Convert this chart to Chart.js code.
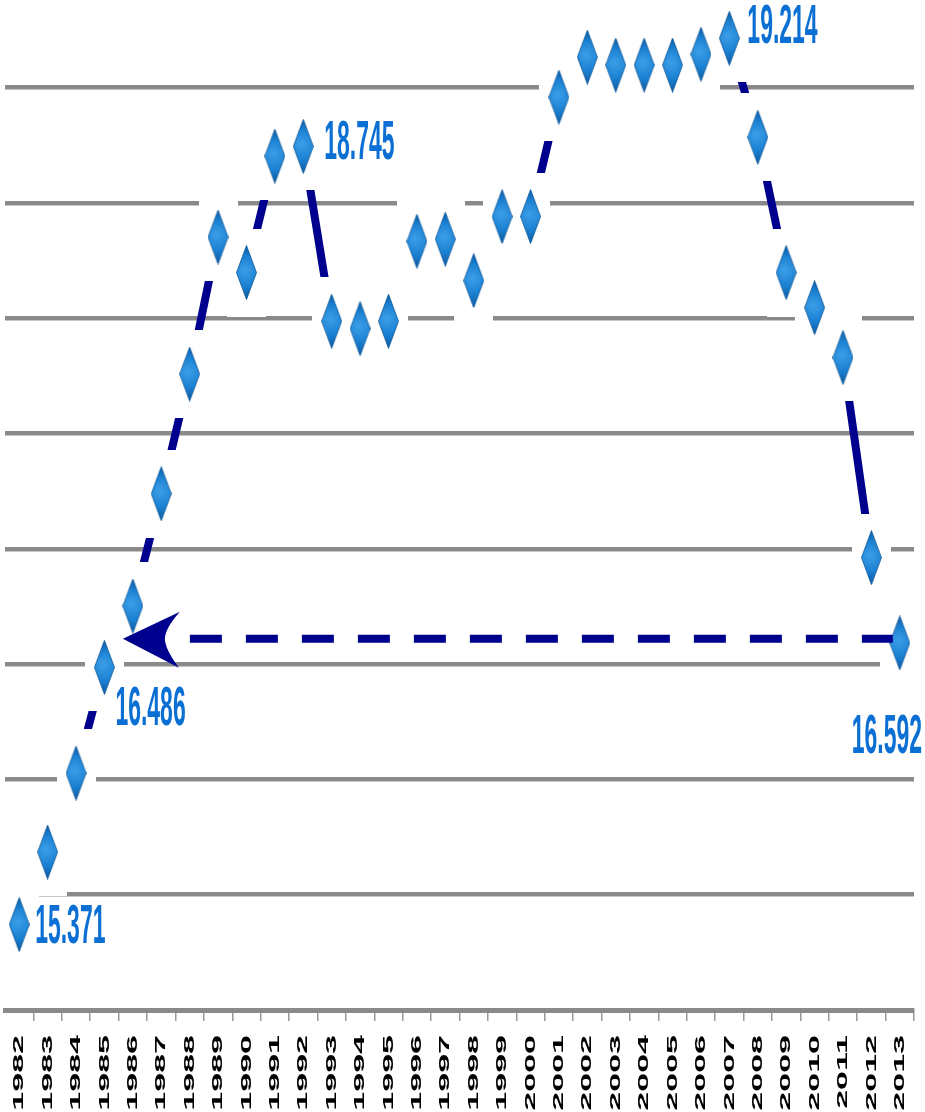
<!DOCTYPE html>
<html>
<head>
<meta charset="utf-8">
<script src="https://cdn.jsdelivr.net/npm/chart.js@4.4.1/dist/chart.umd.min.js"></script>
<style>
  html, body { margin: 0; padding: 0; background: #fff; }
  #wrap { width: 925px; height: 1112px; }
</style>
</head>
<body>
<div id="wrap"><canvas id="myChart"></canvas></div>
<script>
// data
const years = ['1982', '1983', '1984', '1985', '1986', '1987', '1988', '1989', '1990', '1991',
  '1992', '1993', '1994', '1995', '1996', '1997', '1998', '1999', '2000', '2001',
  '2002', '2003', '2004', '2005', '2006', '2007', '2008', '2009', '2010', '2011', '2012', '2013'];
const values = [15.371, 15.685, 16.027, 16.486, 16.752, 17.239, 17.758, 18.352, 18.198, 18.703,
  18.745, 17.987, 17.955, 17.987, 18.334, 18.343, 18.163, 18.441, 18.441, 18.959,
  19.132, 19.098, 19.098, 19.098, 19.145, 19.214, 18.785, 18.198, 18.046, 17.830, 16.962, 16.592];
const yMin = 15;
const yMax = 19.38;
const yStep = 0.5;
const labelledYears = ['1982', '1985', '1992', '2007', '2013'];
// comparison arrow: from 2013 back to the 1985 level
const arrowFromYear = '2013';
const arrowToIndex = 3.65;
const arrowLevel = 16.61;

const navy = '#00008f';
const labelBlue = '#0b6fd4';

// tall 3d-looking diamond marker
function makeDiamond(w, h) {
  const c = document.createElement('canvas');
  c.width = w;
  c.height = h;
  const g = c.getContext('2d');
  g.beginPath();
  g.moveTo(w / 2, 0.5);
  g.lineTo(w - 0.5, h / 2);
  g.lineTo(w / 2, h - 0.5);
  g.lineTo(0.5, h / 2);
  g.closePath();
  const grad = g.createRadialGradient(w * 0.42, h * 0.45, 0, w * 0.5, h * 0.5, h * 0.55);
  grad.addColorStop(0, '#3d9fe8');
  grad.addColorStop(0.5, '#1a80d2');
  grad.addColorStop(1, '#0a4f92');
  g.fillStyle = grad;
  g.fill();
  g.lineWidth = 0.8;
  g.strokeStyle = '#0b5597';
  g.stroke();
  return c;
}

// white box behind each marker, it cuts the line and the grid
function makeHalo(w, h) {
  const c = document.createElement('canvas');
  c.width = w;
  c.height = h;
  const g = c.getContext('2d');
  g.fillStyle = '#ffffff';
  g.fillRect(0, 0, w, h);
  return c;
}

const diamond = makeDiamond(21, 55);
const halo = makeHalo(39, 88);

const labelSpots = {
  '1982': [16, 3],
  '1985': [11, 42],
  '1992': [21, -3],
  '2007': [18, -11],
  '2013': [-48, 95]
};

const valueLabels = {
  id: 'valueLabels',
  afterDatasetsDraw(chart) {
    const ctx = chart.ctx;
    const x = chart.scales.x;
    const y = chart.scales.y;

    // arrow
    const ay = y.getPixelForValue(arrowLevel);
    const tipX = x.getPixelForValue(arrowToIndex);
    const endX = x.getPixelForValue(years.indexOf(arrowFromYear));
    ctx.save();
    ctx.strokeStyle = navy;
    ctx.lineWidth = 8;
    ctx.setLineDash([32, 24]);
    ctx.beginPath();
    ctx.moveTo(tipX + 67, ay);
    ctx.lineTo(endX - 7, ay);
    ctx.stroke();
    ctx.setLineDash([]);
    ctx.fillStyle = navy;
    ctx.beginPath();
    ctx.moveTo(tipX, ay);
    ctx.lineTo(tipX + 57, ay - 27);
    ctx.quadraticCurveTo(tipX + 42, ay - 10, tipX + 42, ay);
    ctx.quadraticCurveTo(tipX + 42, ay + 10, tipX + 56, ay + 29);
    ctx.closePath();
    ctx.fill();
    ctx.restore();

    // value labels
    labelledYears.forEach(yr => {
      const i = years.indexOf(yr);
      const spot = labelSpots[yr];
      ctx.save();
      ctx.translate(x.getPixelForValue(i) + spot[0], y.getPixelForValue(values[i]) + spot[1]);
      ctx.scale(0.41, 1);
      ctx.font = 'bold 56px "Liberation Sans", Arial, sans-serif';
      ctx.fillStyle = labelBlue;
      ctx.textBaseline = 'middle';
      ctx.textAlign = 'left';
      ctx.fillText(values[i].toFixed(3), 0, 0);
      ctx.restore();
    });
  },
  afterDraw(chart) {
    // stretched year labels under the axis
    const ctx = chart.ctx;
    const x = chart.scales.x;
    const top = chart.chartArea.bottom + 25;
    years.forEach((yr, i) => {
      ctx.save();
      ctx.translate(x.getPixelForValue(i), top);
      ctx.rotate(-Math.PI / 2);
      ctx.scale(2.27, 1);
      ctx.font = 'bold 15px "Liberation Sans", Arial, sans-serif';
      ctx.fillStyle = '#000000';
      ctx.textAlign = 'right';
      ctx.textBaseline = 'middle';
      ctx.fillText(yr, 0, 0);
      ctx.restore();
    });
  }
};

const ctx = document.getElementById('myChart');
const chart = new Chart(ctx, {
  type: 'line',
  data: {
    labels: years,
    datasets: [{
      label: 'line',
      data: values,
      borderColor: navy,
      borderWidth: 8,
      pointRadius: 0,
      tension: 0,
      clip: false,
      order: 3
    }, {
      label: 'halo',
      data: values,
      showLine: false,
      pointStyle: halo,
      pointRadius: 10,
      clip: false,
      order: 2
    }, {
      label: 'marker',
      data: values,
      showLine: false,
      pointStyle: diamond,
      pointRadius: 10,
      clip: false,
      order: 1
    }]
  },
  options: {
    responsive: true,
    maintainAspectRatio: false,
    animation: false,
    events: [],
    layout: { autoPadding: false, padding: { left: 5, right: 11, top: 0, bottom: 91 } },
    plugins: {
      legend: { display: false },
      tooltip: { enabled: false }
    },
    scales: {
      x: {
        offset: true,
        grid: {
          offset: true,
          drawOnChartArea: false,
          drawTicks: true,
          tickLength: 11,
          lineWidth: 1.5,
          color: c => (c.index === 0 || c.index === years.length) ? 'rgba(0,0,0,0)' : '#9a9a9a'
        },
        border: { display: true, color: '#8a8a8a', width: 5 },
        ticks: { display: false }
      },
      y: {
        min: yMin,
        max: yMax,
        grid: { color: '#8a8a8a', lineWidth: 4.5, drawTicks: false },
        border: { display: false },
        ticks: { display: false, stepSize: yStep, includeBounds: false }
      }
    }
  },
  plugins: [valueLabels]
});
</script>
</body>
</html>
